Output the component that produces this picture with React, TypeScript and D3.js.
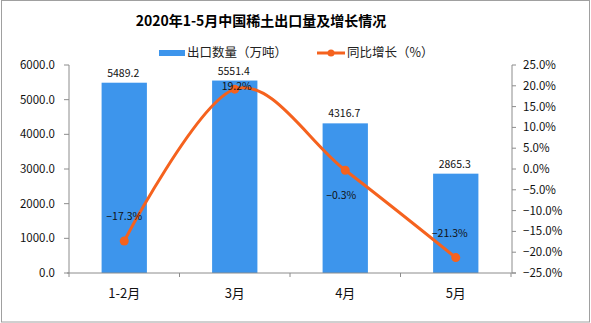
import React from "react";
import * as d3 from "d3";

const categories = ["1-2月", "3月", "4月", "5月"];
const exportVolume = [5489.2, 5551.4, 4316.7, 2865.3];
const yoyGrowth = [-17.3, 19.2, -0.3, -21.3];
const leftTicks = [0, 1000, 2000, 3000, 4000, 5000, 6000];
const rightTicks = [-25, -20, -15, -10, -5, 0, 5, 10, 15, 20, 25];
const title = "2020年1-5月中国稀土出口量及增长情况";
const seriesNames = ["出口数量（万吨）", "同比增长（%）"];

// label offsets (style only)
const growthLabelDy = [-25, -3, 25, -25];
const growthLabelDx = [0, 2, -4, -6];

const W = 591;
const H = 323;
const BAR = "#3D95EC";
const LINE = "#F5621E";
const AXIS = "#8c8c8c";
const NUM_FONT = "'Noto Sans CJK SC', sans-serif";

export default function App() {
  const plotL = 69, plotR = 511, plotT = 65, plotB = 273;
  const x = d3.scaleBand<string>().domain(categories).range([plotL, plotR]).padding(0);
  const bw = x.bandwidth();
  const barW = bw * 0.41;
  const yL = d3.scaleLinear().domain([0, 6000]).range([plotB, plotT]);
  const yR = d3.scaleLinear().domain([-25, 25]).range([plotB, plotT]);
  const cx = (c: string) => (x(c) as number) + bw / 2;
  const fmt1 = d3.format(".1f");

  const linePath = d3
    .line<number>()
    .x((_, i) => cx(categories[i]))
    .y((d) => yR(d))
    .curve(d3.curveCardinal.tension(0))(yoyGrowth) as string;

  return (
    <svg
      width={W}
      height={H}
      style={{ position: "absolute", left: 0, top: 0, background: "#fff" }}
      fontFamily={NUM_FONT}
    >
      <rect x={1.5} y={0.5} width={W - 3} height={H - 1.5} fill="#fff" stroke="#a0a0a0" />
      <text x={261} y={26} textAnchor="middle" fontSize={14} fontWeight={700} fill="#000">
        {title}
      </text>

      {/* legend */}
      <rect x={159} y={50} width={26} height={6} fill={BAR} />
      <text x={187} y={57} fontSize={12.5} fill="#222">{seriesNames[0]}</text>
      <line x1={317} x2={345} y1={53} y2={53} stroke={LINE} strokeWidth={3} />
      <circle cx={331} cy={53} r={3.5} fill={LINE} />
      <text x={347} y={57} fontSize={12.5} fill="#222">{seriesNames[1]}</text>

      {/* bars */}
      {categories.map((c, i) => (
        <rect
          key={c}
          x={cx(c) - barW / 2}
          y={yL(exportVolume[i])}
          width={barW}
          height={plotB - yL(exportVolume[i])}
          fill={BAR}
        />
      ))}

      {/* left axis */}
      <line x1={plotL} x2={plotL} y1={plotT} y2={plotB} stroke={AXIS} />
      {leftTicks.map((t) => (
        <g key={t}>
          <line x1={plotL - 5} x2={plotL} y1={yL(t)} y2={yL(t)} stroke={AXIS} />
          <text x={55} y={yL(t) + 4} textAnchor="end" fontSize={11.5} fill="#111">
            {fmt1(t)}
          </text>
        </g>
      ))}

      {/* right axis */}
      <line x1={plotR + 1} x2={plotR + 1} y1={plotT} y2={plotB} stroke={AXIS} />
      {rightTicks.map((t) => (
        <g key={t}>
          <line x1={plotR + 1} x2={plotR + 5} y1={yR(t)} y2={yR(t)} stroke={AXIS} />
          <text x={523} y={yR(t) + 4} textAnchor="start" fontSize={11.5} fill="#111">
            {fmt1(t) + "%"}
          </text>
        </g>
      ))}

      {/* bottom axis */}
      <line x1={plotL - 2} x2={plotR + 5} y1={plotB} y2={plotB} stroke={AXIS} />
      {categories.map((c, i) => (
        <line key={"t" + i} x1={x(c) as number} x2={x(c) as number} y1={plotB} y2={plotB + 4} stroke={AXIS} />
      ))}
      <line x1={plotR} x2={plotR} y1={plotB} y2={plotB + 4} stroke={AXIS} />
      {categories.map((c) => (
        <text key={"l" + c} x={cx(c)} y={298} textAnchor="middle" fontSize={13} fill="#111">
          {c}
        </text>
      ))}

      {/* bar labels */}
      {categories.map((c, i) => (
        <text key={"v" + c} x={cx(c) - 1} y={yL(exportVolume[i]) - 6} textAnchor="middle" fontSize={10.5} fill="#111">
          {fmt1(exportVolume[i])}
        </text>
      ))}

      {/* line */}
      <path d={linePath} fill="none" stroke={LINE} strokeWidth={3} />
      {yoyGrowth.map((v, i) => (
        <circle key={"p" + i} cx={cx(categories[i])} cy={yR(v)} r={4.5} fill={LINE} />
      ))}
      {yoyGrowth.map((v, i) => (
        <text
          key={"g" + i}
          x={cx(categories[i]) + growthLabelDx[i]}
          y={yR(v) + growthLabelDy[i] + 4}
          textAnchor="middle"
          fontSize={10.5}
          fill="#111"
        >
          {fmt1(v) + "%"}
        </text>
      ))}
    </svg>
  );
}
